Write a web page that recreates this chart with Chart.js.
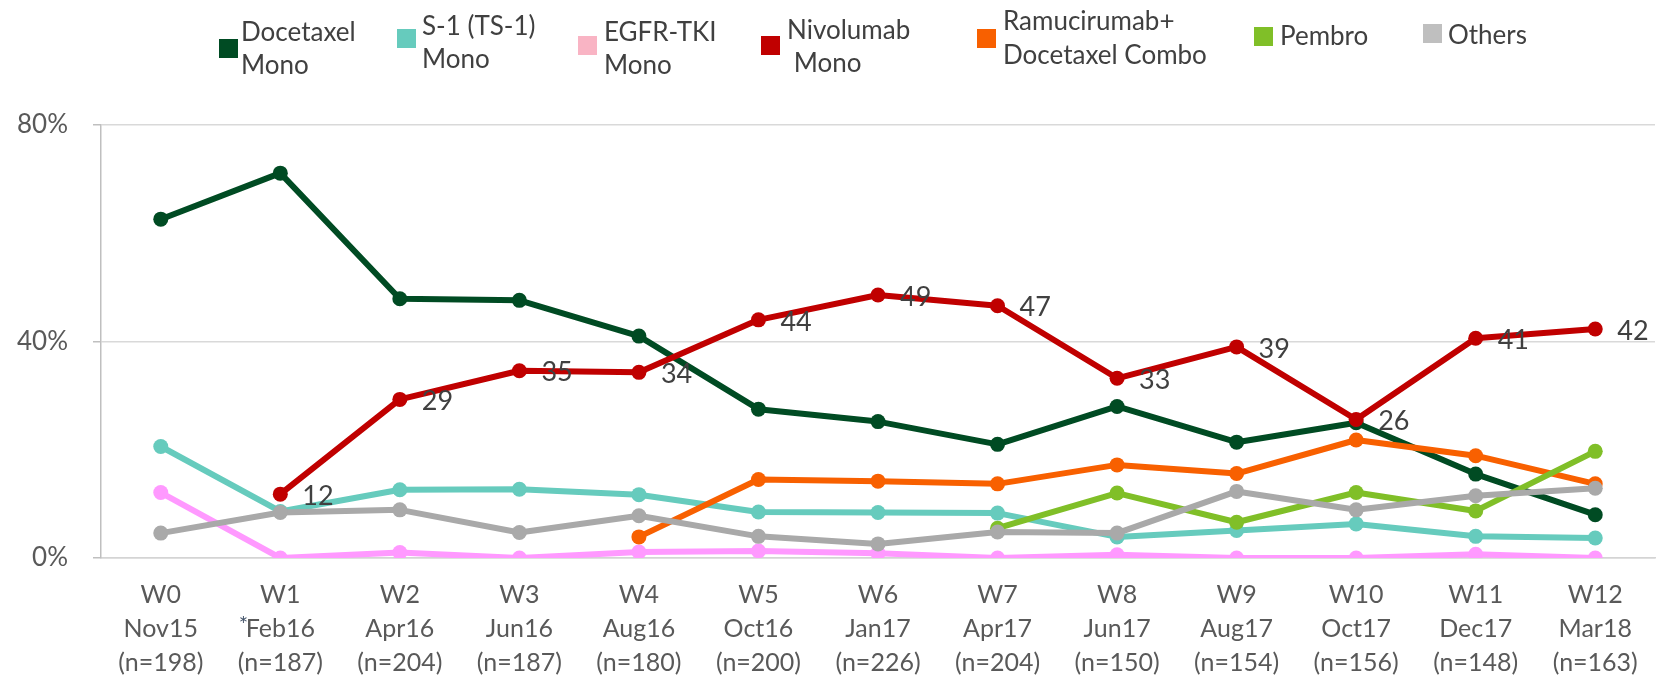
<!DOCTYPE html>
<html>
<head>
<meta charset="utf-8">
<script src="https://cdn.jsdelivr.net/npm/chart.js@4.4.0/dist/chart.umd.min.js"></script>
<style>
  html, body { margin: 0; padding: 0; background: #fff; }
  #wrap { position: relative; width: 1663px; height: 677px; font-family: Lato, "Noto Sans", sans-serif; }
  #c { position: absolute; left: 0; top: 0; }
  .lg-box { position: absolute; width: 19px; height: 19px; }
  .lg-line { position: absolute; font-size: 26px; line-height: 30px; height: 30px; color: #404040; white-space: pre; }
</style>
</head>
<body>
<div id="wrap">
  <canvas id="c" width="1663" height="677"></canvas>
</div>
<script>
// ---------- DATA ----------
const waves   = ['W0','W1','W2','W3','W4','W5','W6','W7','W8','W9','W10','W11','W12'];
const months  = ['Nov15','Feb16','Apr16','Jun16','Aug16','Oct16','Jan17','Apr17','Jun17','Aug17','Oct17','Dec17','Mar18'];
const sampleN = ['(n=198)','(n=187)','(n=204)','(n=187)','(n=180)','(n=200)','(n=226)','(n=204)','(n=150)','(n=154)','(n=156)','(n=148)','(n=163)'];

const docetaxelMono = [62.6, 71.1, 47.9, 47.6, 41.0, 27.5, 25.2, 21.0, 28.0, 21.4, 25.0, 15.5, 8.0];
const s1Mono        = [20.6, 8.6, 12.6, 12.7, 11.7, 8.5, 8.4, 8.3, 3.9, 5.1, 6.3, 4.0, 3.7];
const egfrTkiMono   = [12.1, 0, 1.0, 0, 1.1, 1.3, 0.9, 0, 0.6, 0, 0, 0.7, 0];
const nivolumabMono = [null, 11.8, 29.3, 34.6, 34.3, 44.0, 48.6, 46.6, 33.2, 39.0, 25.6, 40.6, 42.3];
const ramuDocCombo  = [null, null, null, null, 3.9, 14.5, 14.2, 13.7, 17.2, 15.6, 21.8, 18.9, 13.7];
const pembro        = [null, null, null, null, null, null, null, 5.5, 12.0, 6.6, 12.1, 8.7, 19.7];
const others        = [4.6, 8.4, 8.9, 4.7, 7.8, 4.0, 2.6, 4.8, 4.6, 12.3, 8.9, 11.5, 12.9];

const seriesNames = [['Docetaxel','Mono'], ['S-1 (TS-1)','Mono'], ['EGFR-TKI','Mono'], ['Nivolumab',' Mono'], ['Ramucirumab+','Docetaxel Combo'], ['Pembro'], ['Others']];
const seriesData  = [docetaxelMono, s1Mono, egfrTkiMono, nivolumabMono, ramuDocCombo, pembro, others];
const yTicks = [0, 40, 80];

// ---------- STYLE ----------
const lineColors   = ['#004B23', '#66CBBD', '#FF99FF', '#C00000', '#F86000', '#80BF28', '#A9A9A9'];
const legendColors = ['#004B23', '#66CBBD', '#F9B4C4', '#C00000', '#F86000', '#80BF28', '#BFBFBF'];
// legend layout: [boxX, boxY, textX, [line centre y...]]
const legendLayout = [
  [219, 39, 241, [31, 64]],
  [397, 29, 422, [25, 58]],
  [578, 36, 604, [31, 64]],
  [761, 36, 787, [29, 62]],
  [977, 29, 1003, [20, 54]],
  [1254, 27, 1280, [35]],
  [1423, 24, 1448, [34]]
];

const wrap = document.getElementById('wrap');
seriesNames.forEach((lines, i) => {
  const L = legendLayout[i];
  const b = document.createElement('div');
  b.className = 'lg-box';
  b.style.left = L[0] + 'px'; b.style.top = L[1] + 'px';
  b.style.background = legendColors[i];
  wrap.appendChild(b);
  lines.forEach((t, j) => {
    const d = document.createElement('div');
    d.className = 'lg-line';
    d.textContent = t;
    d.style.left = L[2] + 'px';
    d.style.top = (L[3][j] - 15) + 'px';
    wrap.appendChild(d);
  });
});

const FONT = 'Lato, "Noto Sans", sans-serif';

const labelPlugin = {
  id: 'nivoLabels',
  afterDatasetsDraw(chart) {
    const ctx = chart.ctx;
    const meta = chart.getDatasetMeta(3);
    ctx.save();
    ctx.font = '27px ' + FONT;
    ctx.fillStyle = '#404040';
    ctx.textAlign = 'left';
    ctx.textBaseline = 'middle';
    meta.data.forEach((pt, k) => {
      const v = nivolumabMono[k];
      if (v === null || v === undefined) return;
      ctx.fillText(String(Math.round(v)), pt.x + 22, pt.y + 2);
    });
    ctx.restore();
  }
};

const asteriskPlugin = {
  id: 'asterisk',
  afterDraw(chart) {
    const xs = chart.scales.x;
    const ctx = chart.ctx;
    ctx.save();
    ctx.font = '22px ' + FONT;
    ctx.fillStyle = '#44546A';
    ctx.textAlign = 'center';
    ctx.textBaseline = 'alphabetic';
    ctx.fillText('*', xs.getPixelForValue(1) - 37, xs.top + 74);
    ctx.restore();
  }
};

new Chart(document.getElementById('c'), {
  type: 'line',
  data: {
    labels: waves.map((w, i) => [w, months[i], sampleN[i]]),
    datasets: seriesData.map((d, i) => ({
      label: seriesNames[i].join(' ').replace('  ', ' '),
      data: d,
      borderColor: lineColors[i],
      backgroundColor: lineColors[i],
      pointBackgroundColor: lineColors[i],
      pointBorderColor: lineColors[i],
      pointRadius: 7.5,
      pointBorderWidth: 0,
      borderWidth: 6,
      borderJoinStyle: 'round',
      tension: 0,
      fill: false,
      order: 7 - i
    }))
  },
  options: {
    responsive: false,
    animation: false,
    events: [],
    layout: { padding: { top: 125, right: 8, left: 0, bottom: 0 } },
    plugins: { legend: { display: false }, tooltip: { enabled: false } },
    scales: {
      x: {
        offset: true,
        grid: { display: false, drawTicks: false },
        border: { display: true, color: '#D4D4D4', width: 1.5 },
        ticks: {
          color: '#595959',
          font: { family: FONT, size: 25, lineHeight: 1.36 },
          padding: 20,
          maxRotation: 0,
          autoSkip: false
        },
        afterFit(s) { s.height = 119; }
      },
      y: {
        min: 0, max: 80,
        afterBuildTicks(s) { s.ticks = yTicks.map(v => ({ value: v })); },
        grid: { color: '#D9D9D9', lineWidth: 1.5, drawTicks: true, tickLength: 8, tickColor: '#BFBFBF' },
        border: { display: true, color: '#BFBFBF', width: 1.5 },
        ticks: {
          color: '#595959',
          font: { family: FONT, size: 26 },
          padding: 25,
          callback: v => v + '%'
        },
        afterFit(s) { s.width = 101; }
      }
    }
  },
  plugins: [labelPlugin, asteriskPlugin]
});
</script>
</body>
</html>
